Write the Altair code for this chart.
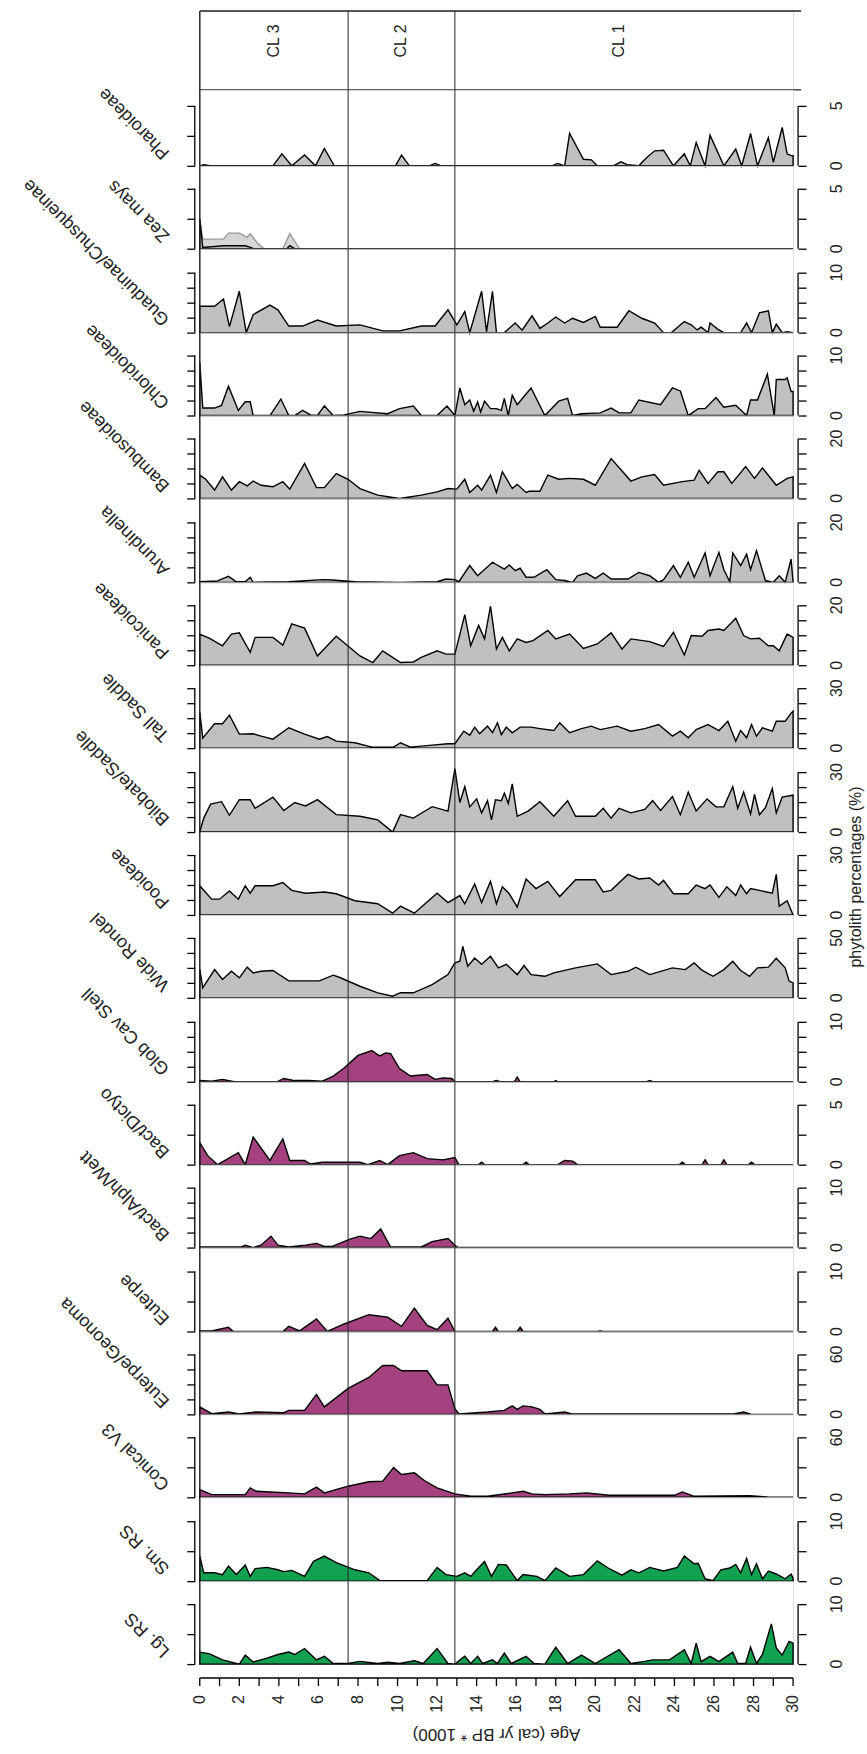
import altair as alt
import pandas as pd

# ---------------- data (age in cal yr BP * 1000, phytolith %) ----------------
ZONE_BOUNDS = [7.5, 12.9]
ZONE_LABELS = ["CL 3", "CL 2", "CL 1"]
ZONE_LABEL_AGES = [3.75, 10.2, 21.2]
AGE_TICKS = list(range(0, 31))
AGE_LABELS = list(range(0, 31, 2))
AGE_TITLE = "Age (cal yr BP * 1000)"
VALUE_TITLE = "phytolith percentages (%)"

PHAROIDEAE = [(0, 0), (0.2, 0.1), (0.6, 0), (3.7, 0), (4.15, 1.0), (4.65, 0), (5.3, 0.9), (5.85, 0),
              (6.3, 1.45), (6.8, 0), (9.9, 0), (10.2, 0.9), (10.6, 0), (11.6, 0), (11.9, 0.2), (12.2, 0),
              (17.8, 0), (18.1, 0.2), (18.45, 0), (18.7, 2.7), (19.4, 0.55), (19.8, 0.5), (20.1, 0),
              (20.9, 0), (21.3, 0.33), (21.6, 0.1), (22.2, 0), (22.6, 0.7), (23.0, 1.25), (23.45, 1.3),
              (23.95, 0), (24.5, 1.0), (24.8, 0), (25.1, 1.95), (25.55, 0), (25.8, 2.55), (26.5, 0),
              (27.1, 1.4), (27.4, 0), (27.85, 2.7), (28.2, 0), (28.75, 2.35), (29.0, 0.3), (29.45, 3.2),
              (29.7, 1.0), (29.9, 0.85), (30, 0.85)]

ZEA_MAYS = [(0, 2.5), (0.15, 0.1), (1.2, 0.25), (2.3, 0.25), (2.6, 0.1), (2.7, 0), (4.4, 0), (4.55, 0.25),
            (4.8, 0), (30, 0)]
ZEA_MAYS_X5 = [(0, 2.5), (0.15, 0.8), (1.2, 0.8), (1.45, 1.3), (2.0, 1.3), (2.4, 0.95), (2.55, 1.25),
               (2.9, 0.5), (3.25, 0), (4.2, 0), (4.55, 1.25), (5.05, 0)]

GUADUINAE = [(0, 4.4), (0.75, 4.4), (1.2, 5.6), (1.5, 1.0), (2.0, 6.9), (2.35, 0), (2.7, 3.0), (3.55, 4.6),
             (3.95, 3.8), (4.5, 1.1), (5.2, 1.1), (5.95, 2.1), (6.9, 1.1), (8.1, 1.3), (9.25, 0.3),
             (10.1, 0.3), (11.2, 1.1), (11.9, 1.1), (12.55, 3.8), (13.0, 1.3), (13.4, 3.5), (13.65, 0),
             (14.25, 6.9), (14.5, 0.15), (14.8, 6.9), (15.0, 0), (15.4, 0), (15.95, 1.6), (16.3, 0.4),
             (16.8, 2.8), (17.2, 0.7), (17.6, 1.6), (18.0, 2.6), (18.45, 1.6), (18.85, 2.4), (19.4, 1.7),
             (20.0, 2.7), (20.25, 0.9), (21.1, 0.9), (21.7, 3.65), (22.35, 2.4), (23.0, 1.6), (23.45, 0),
             (23.85, 0), (24.5, 1.85), (24.85, 1.3), (25.15, 0.45), (25.35, 0.9), (25.7, 0), (25.8, 1.6),
             (26.2, 0.55), (26.5, 0), (27.35, 0), (27.65, 1.6), (27.9, 0), (28.3, 3.3), (28.75, 3.65),
             (28.95, 0), (29.15, 1.4), (29.45, 0), (29.7, 0.15), (30, 0)]

CHLORIDOIDEAE = [(0, 8.9), (0.15, 1.25), (0.75, 1.25), (1.1, 1.7), (1.45, 4.9), (1.95, 0.85), (2.3, 2.3),
                 (2.55, 2.3), (2.7, 0), (3.55, 0), (4.1, 2.75), (4.5, 0), (4.8, 0), (5.2, 0.85), (5.6, 0.1),
                 (5.95, 0), (6.3, 1.6), (6.75, 0), (7.3, 0.1), (8.1, 0.7), (9.5, 0.3), (10.1, 1.15),
                 (10.8, 1.6), (11.2, 0), (12.0, 0), (12.5, 1.6), (12.9, 0), (13.15, 4.6), (13.4, 1.8),
                 (13.65, 2.6), (13.85, 0.7), (14.05, 2.3), (14.2, 0.6), (14.4, 2.4), (14.7, 1.15),
                 (15.0, 1.15), (15.25, 0.85), (15.4, 2.85), (15.6, 0), (15.8, 3.4), (16.05, 1.8),
                 (16.75, 4.6), (17.45, 0), (18.15, 2.4), (18.6, 2.85), (18.85, 0), (19.3, 0.3),
                 (20.25, 0.45), (20.8, 1.25), (21.2, 0.45), (21.8, 0.45), (22.2, 2.6), (23.3, 1.8),
                 (23.9, 4.6), (24.3, 4.1), (24.7, 0), (25.2, 1.15), (25.55, 1.15), (26.1, 3.0), (26.5, 1.4),
                 (27.1, 1.7), (27.65, 0), (27.85, 2.6), (28.2, 2.6), (28.7, 6.9), (29.05, 0), (29.15, 6.0),
                 (29.6, 6.0), (29.7, 6.3), (29.9, 4.0), (30, 4.0)]

BAMBUSOIDEAE = [(0, 7.8), (0.3, 6.4), (0.75, 2.8), (1.15, 7.2), (1.6, 2.8), (2.0, 5.6), (2.4, 4.2), (2.7, 5.8),
                (3.1, 4.4), (3.7, 3.9), (4.2, 5.6), (4.55, 3.1), (5.3, 11.7), (5.9, 3.6), (6.3, 3.6),
                (6.9, 8.3), (7.5, 6.4), (8.1, 3.3), (9.0, 1.1), (10.1, 0), (11.2, 1.1), (12.0, 2.2),
                (12.55, 3.3), (13.0, 3.1), (13.4, 6.4), (13.65, 2.0), (14.05, 4.4), (14.25, 2.8), (14.7, 7.8),
                (15.0, 2.0), (15.3, 8.9), (15.8, 3.3), (16.05, 4.7), (16.5, 2.0), (16.65, 2.4), (17.2, 2.4),
                (17.6, 7.8), (18.15, 6.4), (18.7, 6.7), (19.4, 6.4), (20.0, 4.4), (20.8, 13.3), (21.8, 5.8),
                (22.35, 7.2), (23.0, 8.0), (23.45, 4.4), (24.4, 5.6), (25.0, 6.1), (25.25, 9.4), (25.7, 5.0),
                (26.2, 8.9), (26.5, 8.9), (26.9, 5.0), (27.6, 10.6), (28.05, 6.7), (28.45, 10.2),
                (29.15, 4.4), (29.7, 6.7), (30, 7.2)]

ARUNDINELLA = [(0, 0.2), (0.9, 0.5), (1.45, 2.0), (1.85, 0.2), (2.3, 0.2), (2.55, 1.7), (2.7, 0), (4.5, 0.2),
               (6.2, 0.9), (6.7, 0.8), (7.85, 0.2), (10.1, 0), (12.0, 0.2), (12.45, 1.1), (12.9, 0.9),
               (13.1, 0.2), (13.65, 5.6), (14.05, 2.2), (14.8, 6.7), (15.4, 4.4), (15.65, 5.8), (15.95, 3.9),
               (16.2, 4.7), (16.5, 1.7), (16.9, 1.7), (17.55, 4.2), (18.0, 0.9), (18.45, 0.6), (18.85, 0),
               (19.1, 2.2), (19.55, 3.1), (20.0, 1.3), (20.4, 3.1), (20.8, 1.1), (21.65, 1.1), (22.2, 3.3),
               (22.75, 2.2), (23.2, 0), (23.45, 0.9), (23.95, 5.6), (24.3, 1.7), (24.7, 6.7), (25.0, 1.7),
               (25.55, 9.8), (25.8, 2.2), (26.25, 10.0), (26.5, 4.2), (26.8, 0.2), (26.95, 9.8),
               (27.35, 5.6), (27.65, 9.4), (27.85, 4.2), (28.15, 10.6), (28.6, 0.6), (29.0, 0), (29.3, 2.2),
               (29.6, 0), (29.9, 7.8), (30, 0)]

PANICOIDEAE = [(0, 10.4), (0.5, 9.0), (1.15, 6.5), (1.6, 10.4), (2.0, 10.8), (2.55, 4.3), (2.8, 9.3),
               (3.7, 9.3), (4.2, 6.7), (4.65, 13.8), (5.3, 12.4), (5.95, 3.1), (6.9, 9.7), (7.45, 6.7),
               (8.1, 3.1), (8.75, 0.9), (9.25, 4.8), (9.75, 2.6), (10.15, 0.9), (10.8, 1.1), (11.2, 2.6),
               (12.0, 4.8), (12.45, 3.7), (12.9, 3.7), (13.4, 16.9), (13.7, 6.5), (14.1, 13.3), (14.4, 8.8),
               (14.7, 19.7), (15.0, 5.4), (15.3, 9.3), (15.65, 4.8), (16.05, 8.8), (16.5, 7.6), (16.85, 8.2),
               (17.6, 11.6), (18.0, 8.8), (18.7, 10.4), (19.4, 5.6), (20.1, 7.1), (20.8, 10.8), (21.35, 5.4),
               (21.8, 8.8), (22.75, 7.9), (23.45, 6.3), (23.95, 11.0), (24.5, 3.4), (24.85, 9.9),
               (25.4, 9.7), (25.7, 11.6), (26.25, 12.1), (26.5, 11.6), (27.1, 15.7), (27.5, 9.9),
               (27.85, 8.8), (28.3, 9.0), (28.75, 6.5), (29.0, 6.5), (29.3, 4.8), (29.7, 10.4), (30, 9.3)]

TALL_SADDLE = [(0, 18.2), (0.15, 5.0), (0.75, 12.2), (1.15, 12.2), (1.5, 16.5), (2.0, 7.0), (2.7, 7.2),
               (3.1, 6.0), (3.7, 4.5), (4.5, 10.2), (5.3, 7.0), (6.05, 4.5), (6.45, 5.8), (6.9, 3.5),
               (7.85, 2.7), (8.7, 0.5), (9.8, 0.5), (10.15, 2.7), (10.65, 0.5), (11.75, 1.5), (12.55, 2.2),
               (12.9, 2.2), (13.35, 8.5), (13.65, 6.5), (13.9, 10.5), (14.15, 7.2), (14.55, 11.0),
               (14.8, 7.7), (15.05, 12.7), (15.25, 6.8), (15.5, 10.5), (15.8, 7.7), (16.2, 10.5),
               (16.75, 10.5), (17.2, 9.8), (17.9, 8.8), (18.2, 12.7), (18.7, 7.7), (19.3, 9.8), (19.8, 11.0),
               (20.25, 9.3), (21.1, 11.0), (21.8, 8.5), (22.5, 9.8), (23.2, 11.8), (23.9, 6.0), (24.3, 8.5),
               (24.7, 5.2), (25.1, 9.3), (25.7, 11.8), (26.25, 8.8), (26.7, 13.5), (27.1, 3.5), (27.35, 8.8),
               (27.65, 5.2), (27.9, 11.8), (28.15, 6.0), (28.45, 10.2), (28.95, 8.5), (29.15, 13.5),
               (29.6, 13.5), (29.9, 17.5), (30, 18.5)]

BILOBATE_SADDLE = [(0, 0), (0.2, 7.0), (0.55, 14.0), (1.1, 15.2), (1.5, 8.4), (2.0, 16.2), (2.55, 16.2),
                   (2.8, 11.9), (3.7, 17.5), (4.25, 10.8), (4.8, 14.8), (5.35, 13.1), (5.95, 16.2), (6.9, 8.7),
                   (8.1, 7.9), (9.0, 6.1), (9.75, 0), (10.15, 8.7), (10.8, 7.0), (11.75, 12.7), (12.55, 10.5),
                   (12.9, 31.8), (13.15, 14.8), (13.4, 22.7), (13.65, 12.6), (14.0, 16.6), (14.25, 9.6),
                   (14.55, 15.7), (14.75, 6.1), (14.95, 16.1), (15.25, 15.7), (15.4, 19.5), (15.6, 14.3),
                   (15.8, 24.1), (16.05, 7.9), (16.6, 10.5), (17.2, 15.2), (17.9, 7.9), (18.6, 15.7),
                   (19.0, 7.9), (20.0, 7.9), (20.4, 11.9), (20.8, 7.0), (21.2, 11.9), (21.8, 9.6),
                   (22.5, 11.3), (22.9, 15.7), (23.3, 10.8), (23.9, 17.8), (24.3, 8.7), (24.7, 20.0),
                   (25.1, 10.5), (25.65, 16.6), (26.1, 12.6), (26.5, 12.6), (26.95, 22.7), (27.2, 11.9),
                   (27.5, 20.0), (27.85, 9.1), (28.05, 18.8), (28.3, 8.7), (28.6, 12.2), (28.95, 21.8),
                   (29.15, 9.6), (29.45, 17.5), (29.9, 18.3), (30, 18.5)]

POOIDEAE = [(0, 14.6), (0.6, 7.9), (1.0, 7.9), (1.5, 12.0), (1.95, 7.9), (2.3, 14.6), (2.55, 10.9),
            (2.8, 14.6), (3.7, 14.6), (4.2, 16.2), (4.65, 12.3), (5.35, 10.9), (6.3, 11.5), (6.9, 10.6),
            (7.85, 7.1), (9.0, 5.6), (9.75, 0.9), (10.15, 4.4), (10.85, 0.9), (12.0, 10.9), (12.55, 6.2),
            (13.15, 9.7), (13.4, 5.6), (13.9, 15.5), (14.25, 6.2), (14.7, 16.8), (15.0, 5.6), (15.3, 14.1),
            (15.65, 10.6), (16.05, 3.9), (16.5, 18.0), (17.0, 13.2), (17.6, 16.8), (18.2, 9.2), (19.0, 17.6),
            (20.0, 17.6), (20.4, 11.5), (20.8, 12.3), (21.65, 20.3), (22.2, 18.0), (22.75, 18.5),
            (23.2, 15.0), (23.45, 17.3), (23.95, 10.6), (24.7, 10.6), (25.1, 15.0), (25.55, 13.2),
            (25.8, 15.0), (26.25, 8.8), (26.65, 14.1), (27.1, 9.7), (27.35, 15.0), (27.65, 10.6),
            (27.85, 13.2), (28.3, 12.3), (28.95, 10.9), (29.15, 20.3), (29.3, 4.4), (29.7, 7.1), (30, 0)]

WIDE_RONDEL = [(0, 24.0), (0.15, 8.3), (0.75, 23.6), (1.15, 15.3), (1.6, 22.2), (2.0, 16.7), (2.4, 25.6),
               (2.7, 20.8), (3.1, 22.2), (3.7, 22.8), (4.5, 14.2), (6.05, 14.2), (6.75, 18.9), (7.05, 17.2),
               (8.1, 9.7), (9.0, 4.2), (9.75, 1.4), (10.15, 4.4), (10.8, 4.2), (11.75, 11.1), (12.55, 19.4),
               (12.9, 29.2), (13.15, 30.6), (13.3, 43.0), (13.55, 26.4), (13.9, 33.3), (14.25, 28.0),
               (14.7, 34.7), (15.1, 25.0), (15.5, 28.0), (16.05, 19.4), (16.4, 27.0), (16.75, 19.4),
               (17.45, 18.0), (17.9, 20.8), (19.0, 25.0), (20.1, 28.3), (20.8, 19.4), (21.65, 22.2),
               (22.05, 25.6), (22.75, 19.4), (23.9, 25.0), (24.55, 23.6), (25.0, 29.2), (25.35, 23.6),
               (25.95, 18.0), (26.5, 23.6), (26.95, 30.5), (27.35, 22.8), (27.8, 18.0), (28.2, 25.0),
               (28.75, 25.6), (29.15, 33.0), (29.6, 25.0), (29.8, 14.0), (30, 12.5)]

GLOB_CAV_STELL = [(0, 0.2), (0.6, 0.1), (1.15, 0.4), (1.75, 0), (3.9, 0), (4.25, 0.55), (4.8, 0.2), (5.5, 0.2),
                  (6.2, 0.1), (6.75, 0.95), (7.3, 2.3), (8.0, 4.4), (8.7, 5.2), (9.1, 4.3), (9.4, 4.8),
                  (9.65, 4.7), (10.1, 2.2), (10.65, 0.95), (11.5, 1.2), (11.9, 0.4), (12.3, 0.65),
                  (12.75, 0.55), (12.9, 0), (14.8, 0), (15.0, 0.2), (15.2, 0), (15.9, 0), (16.05, 0.8),
                  (16.2, 0), (17.9, 0), (18.0, 0.2), (18.1, 0), (22.6, 0), (22.75, 0.2), (22.9, 0), (30, 0)]

BACT_DICTYO = [(0, 1.85), (0.4, 0.75), (0.9, 0), (1.95, 1.0), (2.3, 0), (2.7, 2.3), (3.55, 0.35), (4.2, 2.15),
               (4.55, 0.35), (5.3, 0.35), (5.6, 0.05), (6.2, 0.2), (8.1, 0.2), (8.5, 0), (9.1, 0.35),
               (9.5, 0), (10.1, 0.75), (10.8, 1.0), (11.5, 0.5), (12.3, 0.4), (12.9, 0.6), (13.1, 0),
               (14.1, 0), (14.25, 0.2), (14.4, 0), (16.35, 0), (16.5, 0.2), (16.65, 0), (18.1, 0),
               (18.45, 0.35), (18.85, 0.3), (19.1, 0), (24.25, 0), (24.4, 0.2), (24.55, 0), (25.4, 0),
               (25.55, 0.4), (25.7, 0), (26.35, 0), (26.5, 0.4), (26.65, 0), (27.75, 0), (27.9, 0.2),
               (28.05, 0), (30, 0)]

BACT_ALPH_WETT = [(0, 0.1), (2.1, 0.1), (2.3, 0.4), (2.7, 0), (3.1, 0.4), (3.6, 1.9), (3.95, 0.4), (4.5, 0.1),
                  (5.35, 0.4), (5.9, 0.7), (6.3, 0.2), (6.7, 0.2), (7.6, 1.4), (8.1, 1.9), (8.65, 1.5),
                  (9.15, 3.1), (9.65, 0.1), (11.2, 0.1), (11.75, 1.0), (12.55, 1.5), (12.9, 0.4), (13.05, 0),
                  (30, 0)]

EUTERPE = [(0, 0.1), (0.6, 0.1), (1.45, 0.7), (1.7, 0), (4.2, 0), (4.5, 0.85), (5.05, 0.1), (5.9, 2.1),
           (6.45, 0), (7.3, 1.25), (8.55, 2.8), (9.5, 2.4), (10.2, 0.85), (10.85, 3.9), (11.5, 1.0),
           (12.0, 0.3), (12.55, 2.2), (12.9, 0), (14.8, 0), (14.95, 0.7), (15.1, 0), (16.05, 0), (16.2, 0.7),
           (16.35, 0), (20.1, 0), (20.25, 0.1), (20.4, 0), (30, 0)]

EUTERPE_GEONOMA = [(0, 7.5), (0.6, 0.7), (1.45, 2.4), (2.0, 0.5), (2.85, 2.4), (4.25, 1.7), (4.5, 4.0),
                   (5.3, 4.0), (5.9, 20.0), (6.3, 7.5), (7.5, 26.0), (8.55, 37.0), (9.25, 49.0), (9.8, 49.0),
                   (10.2, 43.7), (11.5, 43.7), (12.0, 29.5), (12.55, 29.5), (12.9, 5.8), (13.1, 0.5),
                   (14.55, 2.4), (15.4, 4.0), (15.8, 8.5), (16.05, 5.0), (16.35, 8.5), (16.8, 7.5),
                   (17.2, 5.0), (17.45, 0.5), (18.45, 2.4), (18.8, 0.5), (22.0, 0.5), (27.0, 0.5), (27.5, 2.4),
                   (27.9, 0), (30, 0)]

CONICAL_V3 = [(0, 7.7), (0.6, 2.7), (2.3, 2.7), (2.55, 9.4), (2.85, 6.0), (4.5, 4.4), (5.3, 3.4), (5.9, 10.1),
              (6.3, 4.4), (7.5, 11.1), (8.55, 15.5), (9.25, 16.2), (9.8, 29.7), (10.2, 22.9), (10.85, 24.6),
              (11.35, 16.8), (12.0, 9.4), (12.9, 3.4), (13.7, 1.0), (14.55, 1.0), (15.8, 4.4), (16.35, 6.0),
              (16.8, 3.4), (17.45, 2.7), (18.7, 3.4), (19.55, 4.4), (20.7, 2.0), (24.0, 2.0), (24.4, 5.4),
              (25.0, 1.0), (27.8, 1.5), (28.7, 0.3), (30, 0)]

SM_RS = [(0, 4.2), (0.2, 1.4), (0.75, 1.4), (1.15, 1.1), (1.45, 2.5), (1.85, 1.1), (2.3, 2.7), (2.55, 0.8),
         (2.8, 2.1), (3.4, 2.3), (3.95, 1.9), (4.25, 1.6), (4.65, 1.8), (5.3, 0.8), (5.75, 3.3), (6.3, 4.2),
         (6.9, 3.1), (7.85, 1.9), (8.55, 1.4), (9.1, 0.1), (10.6, 0.1), (11.5, 0.1), (12.0, 2.3),
         (12.45, 1.1), (13.0, 0.8), (13.4, 1.4), (13.7, 0.8), (14.0, 1.9), (14.4, 3.3), (14.75, 0.8),
         (15.1, 2.8), (15.5, 2.7), (16.05, 0.1), (16.35, 1.1), (17.05, 0.8), (17.45, 0.1), (18.0, 2.2),
         (18.7, 0.8), (19.4, 1.1), (20.1, 3.4), (20.65, 2.2), (21.35, 1.0), (21.8, 1.9), (22.2, 1.4),
         (22.75, 2.3), (23.45, 1.7), (24.15, 2.3), (24.5, 4.2), (25.0, 2.9), (25.2, 3.0), (25.55, 0.4),
         (25.95, 0.1), (26.35, 1.9), (26.8, 2.2), (27.1, 2.8), (27.35, 1.4), (27.65, 3.8), (27.9, 1.1),
         (28.15, 2.9), (28.45, 0.4), (28.75, 1.7), (29.15, 1.2), (29.6, 0.4), (29.9, 1.2), (30, 0.5)]

LG_RS = [(0, 2.0), (0.5, 1.7), (1.15, 0.7), (2.0, 0), (2.3, 1.5), (2.7, 0.35), (3.4, 1.0), (3.95, 1.6),
         (4.5, 2.0), (4.8, 1.6), (5.3, 2.6), (5.9, 0.7), (6.3, 1.3), (6.75, 0.1), (7.5, 0.1), (8.1, 0.45),
         (9.0, 0.1), (9.5, 0.3), (10.1, 0.1), (10.85, 0.55), (11.3, 0.1), (12.0, 2.6), (12.55, 0.1),
         (12.9, 0), (13.4, 1.3), (13.7, 0.1), (14.05, 1.3), (14.3, 0.1), (14.8, 0.7), (15.05, 0.1),
         (15.4, 1.85), (15.75, 0.1), (16.5, 1.3), (16.9, 0.1), (17.45, 0), (18.0, 2.8), (18.6, 0.1),
         (19.3, 1.5), (20.0, 0.1), (21.2, 2.4), (21.8, 0.1), (22.5, 0.45), (22.9, 0.7), (23.75, 0.7),
         (24.5, 2.4), (24.85, 0.1), (25.1, 3.5), (25.35, 0.4), (25.8, 1.3), (26.25, 0.4), (26.95, 2.0),
         (27.2, 0.1), (27.6, 0.1), (27.85, 2.8), (28.15, 0.1), (28.45, 1.6), (28.9, 6.7), (29.15, 2.7),
         (29.45, 1.5), (29.8, 3.8), (30, 3.5)]

GRAY = "#c0c0c0"
MAGENTA = "#a3427f"
GREEN = "#12a150"

# name, series, axis max, number of ticks, fill colour
TAXA = [
    ("Pharoideae", PHAROIDEAE, 5, 3, GRAY),
    ("Zea mays", ZEA_MAYS, 5, 3, GRAY),
    ("Guaduinae/Chusqueinae", GUADUINAE, 10, 5, GRAY),
    ("Chloridoideae", CHLORIDOIDEAE, 10, 5, GRAY),
    ("Bambusoideae", BAMBUSOIDEAE, 20, 5, GRAY),
    ("Arundinella", ARUNDINELLA, 20, 5, GRAY),
    ("Panicoideae", PANICOIDEAE, 20, 5, GRAY),
    ("Tall Saddle", TALL_SADDLE, 30, 5, GRAY),
    ("Bilobate/Saddle", BILOBATE_SADDLE, 30, 5, GRAY),
    ("Pooideae", POOIDEAE, 30, 5, GRAY),
    ("Wide Rondel", WIDE_RONDEL, 50, 5, GRAY),
    ("Glob Cav Stell", GLOB_CAV_STELL, 10, 5, MAGENTA),
    ("Bact/Dictyo", BACT_DICTYO, 5, 3, MAGENTA),
    ("Bact/Alph/Wett", BACT_ALPH_WETT, 10, 5, MAGENTA),
    ("Euterpe", EUTERPE, 10, 3, MAGENTA),
    ("Euterpe/Geonoma", EUTERPE_GEONOMA, 60, 5, MAGENTA),
    ("Conical V3", CONICAL_V3, 60, 3, MAGENTA),
    ("Sm. RS", SM_RS, 10, 3, GREEN),
    ("Lg. RS", LG_RS, 10, 3, GREEN),
]

# ---------------- layout ----------------
FONT = "Liberation Sans"
INK = "#222"
W = 594
BAND_H = 79
FIRST_H = 76
PITCH = 83.333
TICK_PX = 60  # pixels between 0 and the axis maximum
AXIS_OFF = 14
LW = 1.4

HEIGHTS = [FIRST_H] + [round(PITCH * k) - round(PITCH * (k - 1)) for k in range(1, len(TAXA))]

xs = alt.Scale(domain=[0, 30], nice=False, zero=False)
zones_df = pd.DataFrame({"age": ZONE_BOUNDS})
one = pd.DataFrame({"a": [0]})


def zone_rules(h):
    return alt.Chart(zones_df).mark_rule(color=INK, strokeWidth=1).encode(
        x=alt.X("age:Q", scale=xs, axis=None), y=alt.value(0), y2=alt.value(h))


# zone band at the top
band_top = alt.Chart(one).mark_rule(color=INK, strokeWidth=LW).encode(
    x=alt.value(0), x2=alt.value(W + 8), y=alt.value(0))
band_bottom = alt.Chart(one).mark_rule(color=INK, strokeWidth=LW).encode(
    x=alt.value(0), x2=alt.value(W + 8), y=alt.value(BAND_H))
band_left = alt.Chart(one).mark_rule(color=INK, strokeWidth=LW).encode(
    x=alt.value(0), y=alt.value(0), y2=alt.value(BAND_H))
band_text = alt.Chart(pd.DataFrame({"age": ZONE_LABEL_AGES, "lab": ZONE_LABELS})).mark_text(
    angle=270, align="center", baseline="middle", fontSize=16, font=FONT, color=INK).encode(
    x=alt.X("age:Q", scale=xs, axis=None), y=alt.value(30), text="lab:N")
band = alt.layer(band_top, band_bottom, band_left, zone_rules(BAND_H), band_text).properties(
    width=W, height=BAND_H)


def age_axis(h):
    y0 = h + AXIS_OFF
    dom = alt.Chart(one).mark_rule(color="black", strokeWidth=LW).encode(
        x=alt.value(0), x2=alt.value(W), y=alt.value(y0))
    tk = alt.Chart(pd.DataFrame({"age": AGE_TICKS})).mark_rule(color="black", strokeWidth=1.3).encode(
        x=alt.X("age:Q", scale=xs, axis=None), y=alt.value(y0), y2=alt.value(y0 + 8))
    lab = alt.Chart(pd.DataFrame({"age": AGE_LABELS, "t": [str(a) for a in AGE_LABELS]})).mark_text(
        angle=270, align="right", baseline="middle", fontSize=16, font=FONT, color=INK).encode(
        x=alt.X("age:Q", scale=xs, axis=None), y=alt.value(y0 + 17), text="t:N")
    ttl = alt.Chart(pd.DataFrame({"t": [AGE_TITLE]})).mark_text(
        angle=180, align="center", baseline="middle", fontSize=17, font=FONT, color=INK).encode(
        x=alt.value(W / 2), y=alt.value(h + 70), text="t:N")
    return [dom, tk, lab, ttl]


def panel(idx, name, pts, vmax, nt, fill):
    h = HEIGHTS[idx]
    last = idx == len(TAXA) - 1
    df = pd.DataFrame(pts, columns=["age", "value"])
    ys = alt.Scale(domain=[0, vmax * h / TICK_PX], nice=False, zero=True)
    ticks = [vmax * i / (nt - 1) for i in range(nt)]
    layers = []
    if name == "Zea mays":
        ex = pd.DataFrame(ZEA_MAYS_X5, columns=["age", "value"])
        layers.append(alt.Chart(ex).mark_area(fill="#d6d6d6", stroke="#9a9a9a", strokeWidth=LW).encode(
            x=alt.X("age:Q", scale=xs, axis=None), y=alt.Y("value:Q", scale=ys, axis=None)))
    layers.append(alt.Chart(df).mark_area(fill=fill, stroke="black", strokeWidth=LW, strokeJoin="miter").encode(
        x=alt.X("age:Q", scale=xs, axis=None),
        y=alt.Y("value:Q", scale=ys, axis=alt.Axis(
            orient="left", values=ticks, labels=False, domain=False, tickSize=8, offset=5,
            tickColor="black", tickWidth=1.3, grid=False, title=None))))
    right = alt.Chart(pd.DataFrame({"v": ticks})).mark_point(opacity=0).encode(
        y=alt.Y("v:Q", scale=ys, axis=alt.Axis(
            orient="right", values=ticks, labels=False, domain=False, tickSize=8,
            offset=5, tickColor="black", tickWidth=1.3, grid=False, title=None)))
    right_labels = alt.Chart(pd.DataFrame({"v": [0, vmax], "t": ["0", str(vmax)]})).mark_text(
        angle=270, align="center", baseline="middle", fontSize=16, font=FONT, color=INK).encode(
        x=alt.value(W + 44), y=alt.Y("v:Q", scale=ys, axis=None), text="t:N")
    lbr = alt.Chart(one).mark_rule(color="black", strokeWidth=1.3).encode(
        x=alt.value(-5), y=alt.YDatum(0, axis=None), y2=alt.Y2Datum(vmax))
    rbr = alt.Chart(one).mark_rule(color="black", strokeWidth=1.3).encode(
        x=alt.value(W + 5), y=alt.YDatum(0, axis=None), y2=alt.Y2Datum(vmax))
    left_line = alt.Chart(one).mark_rule(color=INK, strokeWidth=LW).encode(
        x=alt.value(0), y=alt.value(0), y2=alt.value(h))
    label = alt.Chart(pd.DataFrame({"t": [name]})).mark_text(
        angle=225, align="left", baseline="middle", fontSize=18, font=FONT, color=INK).encode(
        x=alt.value(-33), y=alt.value(h - 10), text="t:N")
    parts = layers + [zone_rules(h), left_line, right, right_labels, lbr, rbr, label]
    if name == "Pooideae":
        parts.append(alt.Chart(pd.DataFrame({"t": [VALUE_TITLE]})).mark_text(
            angle=270, align="center", baseline="middle", fontSize=16, font=FONT, color=INK).encode(
            x=alt.value(W + 63), y=alt.value(45), text="t:N"))
    if last:
        parts += age_axis(h)
    return alt.layer(*parts).resolve_axis(y="independent").properties(width=W, height=h)


panels = [panel(i, *t) for i, t in enumerate(TAXA)]

chart = alt.vconcat(band, *panels, spacing=0, bounds="flush").properties(
    padding={"left": 19, "top": 8, "right": 2, "bottom": 4}
).configure_view(stroke=None).configure(background="white")

chart.save("out.html", embed_options={"renderer": "svg", "actions": False})
